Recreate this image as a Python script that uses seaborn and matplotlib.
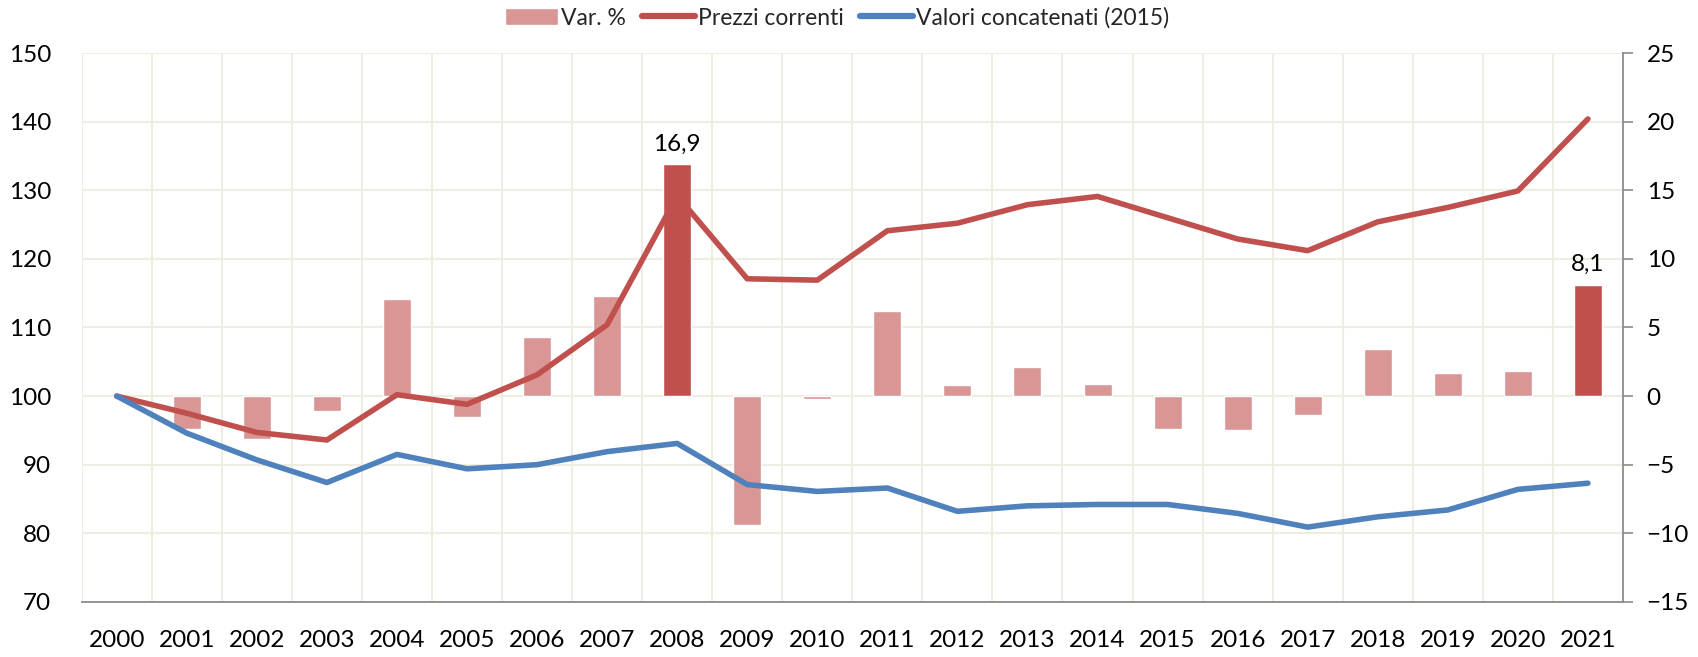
import numpy as np
import pandas as pd
import matplotlib
matplotlib.use("Agg")
import matplotlib.pyplot as plt
import seaborn as sns
from matplotlib.patches import Patch
from matplotlib.lines import Line2D

# dati
anni = [str(a) for a in range(2000, 2022)]
prezzi_correnti = [100.0, 97.5, 94.7, 93.6, 100.2, 98.8, 103.1, 110.4, 129.2, 117.1, 116.9,
                   124.1, 125.2, 127.9, 129.1, 126.0, 122.9, 121.2, 125.4, 127.5, 129.9, 140.4]
valori_concatenati = [100.0, 94.6, 90.7, 87.4, 91.5, 89.4, 90.0, 91.9, 93.1, 87.1, 86.1,
                      86.6, 83.2, 84.0, 84.2, 84.2, 82.9, 80.9, 82.4, 83.4, 86.4, 87.3]
var_pct = [np.nan, -2.4, -3.1, -1.1, 7.1, -1.5, 4.3, 7.3, 16.9, -9.4, -0.2,
           6.2, 0.8, 2.1, 0.9, -2.4, -2.5, -1.4, 3.4, 1.7, 1.8, 8.1]
anni_evidenziati = ["2008", "2021"]

ROSSO = "#C0504D"
ROSSO_CHIARO = "#D99694"
BLU = "#4F81BD"
GRIGLIA = "#EFECE2"

sns.set_theme(style="white")
plt.rcParams["font.family"] = ["Lato", "DejaVu Sans"]

df = pd.DataFrame({"anno": anni, "var": var_pct,
                   "prezzi": prezzi_correnti, "valori": valori_concatenati})
df["pos"] = np.arange(len(df))

fig = plt.figure(figsize=(16.98, 6.57), dpi=100)
ax = fig.add_axes([0.0481, 0.0839, 0.9077, 0.8353])

# barre Var. % (asse destro)
colori = {a: (ROSSO if a in anni_evidenziati else ROSSO_CHIARO) for a in anni}
sns.barplot(data=df, x="anno", y="var", hue="anno", palette=colori, legend=False,
            width=0.4, errorbar=None, saturation=1, ax=ax, zorder=2)
ax.set_ylim(-15, 25)
ax.set_xlim(-0.5, len(anni) - 0.5)
ax.set_yticks(np.arange(-15, 26, 5))
ax.set_xlabel("")
ax.set_ylabel("")

# griglia: orizzontale sui tick, verticale tra le categorie
for y in np.arange(-15, 26, 5):
    ax.axhline(y, color=GRIGLIA, lw=1.5, zorder=0)
for x in np.arange(-0.5, len(anni), 1.0):
    ax.axvline(x, color=GRIGLIA, lw=1.5, zorder=0)

for a in anni_evidenziati:
    i = anni.index(a)
    v = var_pct[i]
    ax.annotate(f"{v:.1f}".replace(".", ","), (i, v), xytext=(0, 7),
                textcoords="offset points", ha="center", va="bottom",
                fontsize=17.5, color="black")

# linee indici (asse sinistro)
ax2 = ax.twinx()
sns.lineplot(data=df, x="pos", y="prezzi", color=ROSSO, lw=4, ax=ax2)
sns.lineplot(data=df, x="pos", y="valori", color=BLU, lw=4, ax=ax2)
ax2.set_ylim(70, 150)
ax2.set_yticks(np.arange(70, 151, 10))
ax2.set_xlim(-0.5, len(anni) - 0.5)
ax2.set_xlabel("")
ax2.set_ylabel("")
ax2.patch.set_visible(False)

# scambio dei lati: barre a destra, indici a sinistra
ax.yaxis.tick_right()
ax2.yaxis.tick_left()

for a_ in (ax, ax2):
    for s in a_.spines.values():
        s.set_visible(False)
ax.spines["bottom"].set_visible(True)
ax.spines["bottom"].set_color("#8C8C8C")
ax.spines["bottom"].set_linewidth(1.3)
ax.spines["right"].set_visible(True)
ax.spines["right"].set_color("#8C8C8C")
ax.spines["right"].set_linewidth(1.3)

ax.tick_params(axis="x", length=0, pad=20, labelsize=17.5, colors="black")
ax.tick_params(axis="y", right=True, left=False, labelright=True, labelleft=False,
               direction="out", length=7, width=1.2, color="#8C8C8C", pad=10,
               labelsize=17.5, labelcolor="black")
ax2.tick_params(axis="y", left=True, right=False, labelleft=True, labelright=False,
                length=0, pad=22, labelsize=17.5, labelcolor="black")
ax2.tick_params(axis="x", bottom=False, labelbottom=False)

handles = [Patch(facecolor=ROSSO_CHIARO, label="Var. %"),
           Line2D([0], [0], color=ROSSO, lw=4.5, label="Prezzi correnti"),
           Line2D([0], [0], color=BLU, lw=4.5, label="Valori concatenati (2015)")]
fig.legend(handles=handles, loc="upper center", bbox_to_anchor=(0.493, 1.01), ncol=3,
           frameon=False, fontsize=16.5, handlelength=2.3, handleheight=0.8,
           handletextpad=0.15, columnspacing=0.7, borderaxespad=0.2)

fig.savefig("out.png", dpi=100)
